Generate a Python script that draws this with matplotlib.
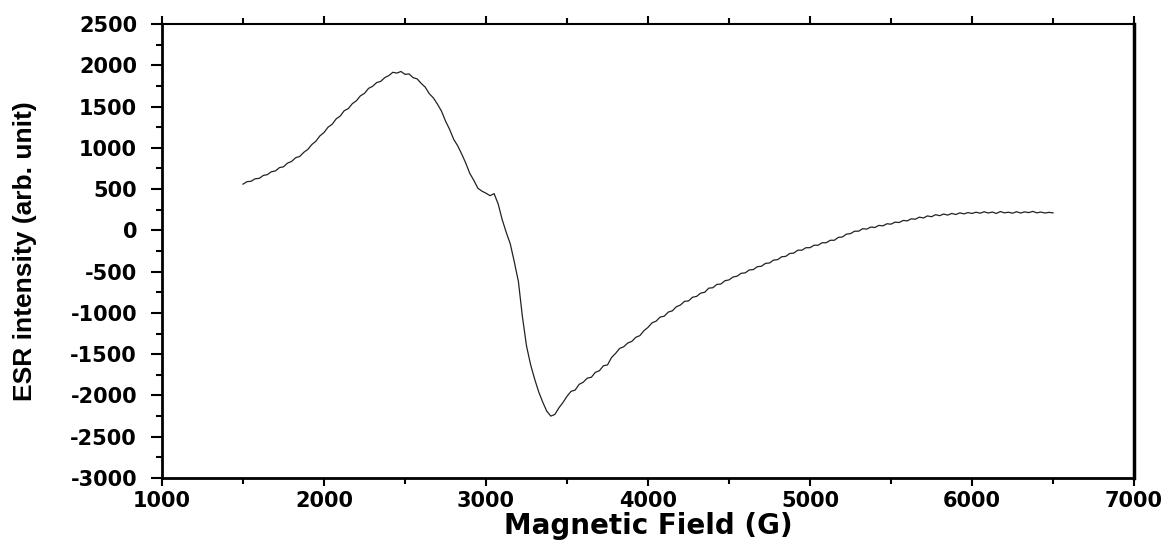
import numpy as np
import matplotlib.pyplot as plt
from matplotlib.ticker import MultipleLocator

plt.rcParams['axes.unicode_minus'] = False

# Magnetic field sweep [G], one reading every 25 G
field = np.arange(1500, 6525, 25)

# ESR intensity (arb. unit)
esr = [
    560, 590, 595, 625, 630, 665, 675, 710, 720, 760,
    770, 815, 835, 880, 895, 945, 980, 1040, 1080, 1145,
    1185, 1250, 1285, 1350, 1385, 1450, 1475, 1535, 1570, 1630,
    1660, 1720, 1745, 1790, 1805, 1850, 1875, 1915, 1905, 1925,
    1890, 1895, 1850, 1835, 1780, 1735, 1655, 1605, 1530, 1445,
    1325, 1225, 1105, 1025, 925, 815, 690, 605, 510, 475,
    450, 420, 445, 320, 130, -25, -165, -385, -620, -1050,
    -1400, -1625, -1800, -1955, -2080, -2190, -2250, -2230, -2150, -2085,
    -2010, -1950, -1935, -1865, -1840, -1790, -1780, -1720, -1700, -1640,
    -1630, -1540, -1490, -1430, -1410, -1365, -1345, -1295, -1275, -1215,
    -1175, -1120, -1100, -1050, -1040, -990, -975, -925, -905, -860,
    -855, -810, -800, -760, -750, -700, -695, -655, -650, -610,
    -600, -565, -555, -520, -515, -480, -475, -440, -435, -400,
    -395, -360, -355, -320, -315, -280, -275, -240, -240, -210,
    -210, -180, -180, -150, -150, -120, -120, -85, -80, -45,
    -40, -10, -10, 20, 15, 40, 35, 60, 55, 80,
    75, 100, 95, 120, 115, 140, 135, 160, 150, 175,
    165, 190, 178, 198, 185, 205, 192, 212, 200, 215,
    205, 220, 208, 225, 210, 222, 205, 228, 212, 220,
    208, 226, 210, 224, 215, 230, 212, 222, 210, 218, 212,
]

fig = plt.figure(figsize=(11.68, 5.44), dpi=100)
ax = fig.add_axes([0.1387, 0.1213, 0.8322, 0.8346])

ax.plot(field, esr, color='#222222', linewidth=0.9)

ax.set_xlim(1000, 7000)
ax.set_ylim(-3000, 2500)
ax.xaxis.set_major_locator(MultipleLocator(1000))
ax.xaxis.set_minor_locator(MultipleLocator(500))
ax.yaxis.set_major_locator(MultipleLocator(500))
ax.yaxis.set_minor_locator(MultipleLocator(250))

ax.tick_params(which='both', direction='out', top=True, right=False,
               width=1.5, labelsize=15)
ax.tick_params(axis='y', which='major', length=8, pad=10)
ax.tick_params(axis='x', which='major', length=6, pad=3)
ax.tick_params(which='minor', length=4)
for lab in ax.get_xticklabels() + ax.get_yticklabels():
    lab.set_fontweight('bold')

ax.spines['left'].set_linewidth(2)
ax.spines['bottom'].set_linewidth(2)
ax.spines['top'].set_linewidth(1.5)
ax.spines['right'].set_linewidth(2.5)

ax.set_xlabel('Magnetic Field (G)', fontsize=20, fontweight='bold', labelpad=1)
ax.set_ylabel('ESR intensity (arb. unit)', fontsize=19, fontweight='bold',
              family=['Liberation Sans', 'DejaVu Sans'], labelpad=24)

fig.savefig('out.png', dpi=100)
